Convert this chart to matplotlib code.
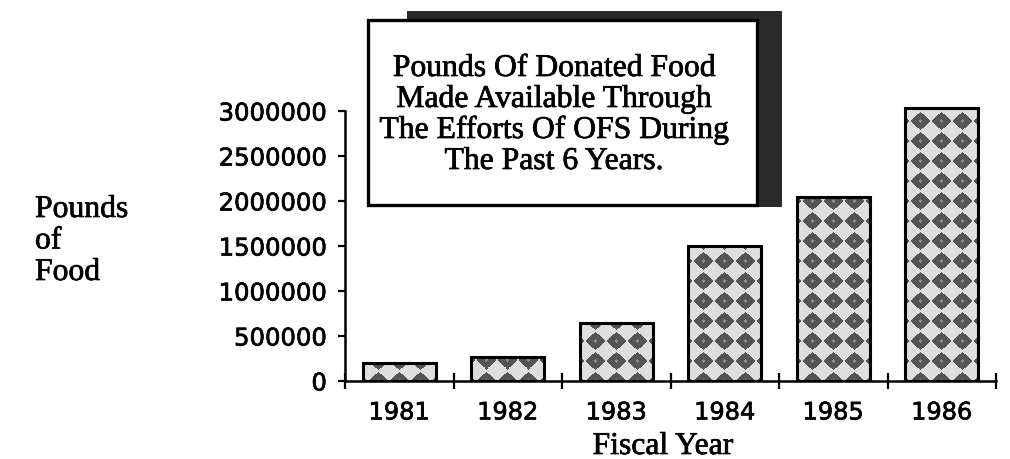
import numpy as np
import matplotlib
matplotlib.use("Agg")
import matplotlib.pyplot as plt
import matplotlib.patheffects as pe
from matplotlib.patches import Rectangle

# data
years = ["1981", "1982", "1983", "1984", "1985", "1986"]
pounds = [200000, 270000, 650000, 1500000, 2040000, 3030000]
y_ticks = [0, 500000, 1000000, 1500000, 2000000, 2500000, 3000000]
title_lines = ["Pounds Of Donated Food", "Made Available Through",
               "The Efforts Of OFS During", "The Past 6 Years."]
ylabel_lines = ["Pounds", "of", "Food"]
xlabel = "Fiscal Year"

W, H = 1010, 460
serif = "Liberation Serif"
sans = "DejaVu Sans"
heavy = [pe.withStroke(linewidth=0.5, foreground="black")]
heavy_serif = [pe.withStroke(linewidth=0.5, foreground="black")]


def fx(px):
    return px / W


def fy(py):
    # py measured from the top of the image
    return (H - py) / H


def texture(w, h):
    # rotated checker of dark diamonds on a light ground, pixel sized
    iy, ix = np.indices((h, w))
    u = (ix + 0.5 - w / 2) / 21.0
    v = (iy + 0.5) / 20.0
    d = np.abs(u - np.round(u)) + np.abs(v - np.round(v))
    img = np.where(d < 0.47, 0.33, 0.87)
    img = np.where(d < 0.12, 0.55, img)
    return img


fig = plt.figure(figsize=(W / 100, H / 100), dpi=100)
fig.patch.set_facecolor("white")

ax_l, ax_r = 345, 996
ax_b, ax_t = 382, 94
ax = fig.add_axes([fx(ax_l), fy(ax_b), (ax_r - ax_l) / W, (ax_b - ax_t) / H])
ymax = 3200000

x = np.arange(len(years))
bars = ax.bar(x, pounds, width=0.67, facecolor="none", edgecolor="black",
              linewidth=2.2, zorder=3)

px_x = (ax_r - ax_l) / len(years)
px_y = (ax_b - ax_t) / ymax
for b in bars:
    w = int(round(b.get_width() * px_x))
    h = max(1, int(round(b.get_height() * px_y)))
    im = ax.imshow(texture(w, h), cmap="gray", vmin=0, vmax=1, origin="lower",
                   extent=(b.get_x(), b.get_x() + b.get_width(), 0, b.get_height()),
                   aspect="auto", interpolation="nearest", zorder=2)
    im.set_clip_path(b)

ax.set_xlim(-0.5, len(years) - 0.5)
ax.set_ylim(0, ymax)

for s in ["top", "right"]:
    ax.spines[s].set_visible(False)
ax.spines["left"].set_bounds(0, 3000000)
ax.spines["left"].set_linewidth(1.8)
ax.spines["bottom"].set_linewidth(1.8)

ax.set_xticks(x, years)
ax.set_xticks(np.arange(-0.5, len(years), 1), minor=True)
ax.tick_params(axis="x", which="major", length=0, pad=14, labelsize=17.3)
ax.tick_params(axis="x", which="minor", direction="inout", length=11, width=1.6)
ax.set_yticks(y_ticks, [str(v) for v in y_ticks])
ax.tick_params(axis="y", direction="out", length=5, width=1.6, pad=8, labelsize=17.5)
for lab in ax.get_xticklabels() + ax.get_yticklabels():
    lab.set_fontfamily(sans)
    lab.set_path_effects(heavy)

# title box with its heavy shadow
fig.patches.append(Rectangle((fx(407), fy(208)), (782 - 407) / W, (208 - 12) / H,
                             transform=fig.transFigure, facecolor="#2a2a2a",
                             edgecolor="none", zorder=5))
fig.patches.append(Rectangle((fx(368), fy(206)), (757 - 368) / W, (206 - 21) / H,
                             transform=fig.transFigure, facecolor="white",
                             edgecolor="black", linewidth=2.4, zorder=6))
for i, line in enumerate(title_lines):
    fig.text(fx(554), fy(77 + 31 * i), line, ha="center", va="baseline",
             fontsize=22.8, family=serif, zorder=7, path_effects=heavy_serif)

for i, line in enumerate(ylabel_lines):
    fig.text(fx(35), fy(218 + 31.5 * i), line, ha="left", va="baseline",
             fontsize=22.8, family=serif, path_effects=heavy_serif)

fig.text(fx(663), fy(455), xlabel, ha="center", va="baseline",
         fontsize=22.8, family=serif, path_effects=heavy_serif)

fig.savefig("out.png", dpi=100)
